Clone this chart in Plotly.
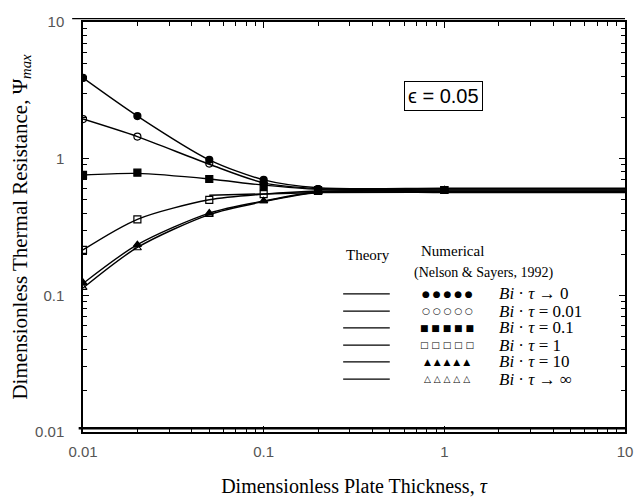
import plotly.graph_objects as go

# ---------------- data ----------------
tau_num = [0.01, 0.02, 0.05, 0.1, 0.2, 1]
tau_th = [0.01, 0.02, 0.05, 0.1, 0.2, 1, 10]

series_labels = ["Bi·τ → 0", "Bi·τ = 0.01", "Bi·τ = 0.1", "Bi·τ = 1", "Bi·τ = 10", "Bi·τ → ∞"]

theory_0 = [3.9, 2.05, 0.98, 0.70, 0.612, 0.607, 0.607]
theory_001 = [1.95, 1.45, 0.91, 0.665, 0.604, 0.599, 0.599]
theory_01 = [0.76, 0.78, 0.71, 0.64, 0.596, 0.59, 0.59]
theory_1 = [0.215, 0.36, 0.50, 0.55, 0.58, 0.581, 0.581]
theory_10 = [0.122, 0.235, 0.40, 0.49, 0.57, 0.573, 0.573]
theory_inf = [0.113, 0.224, 0.39, 0.485, 0.565, 0.565, 0.565]

num_0 = [3.9, 2.05, 0.98, 0.70, 0.60, 0.59]
num_001 = [1.95, 1.45, 0.92, 0.66, 0.60, 0.59]
num_01 = [0.76, 0.79, 0.71, 0.63, 0.59, 0.59]
num_1 = [0.215, 0.36, 0.50, 0.55, 0.58, 0.59]
num_10 = [0.124, 0.235, 0.40, 0.49, 0.57, 0.59]
num_inf = [0.114, 0.222, 0.39, 0.49, 0.57, 0.59]

asym_tau = [0.05, 0.2, 10]
asym_psi = [0.54, 0.565, 0.575]

x_tickvals = [0.01, 0.1, 1, 10]
x_ticktext = ["0.01", "0.1", "1", "10"]
y_tickvals = [0.01, 0.1, 1, 10]
y_ticktext = ["0.01", "0.1", "1", "10"]
minor_vals = [m * d for d in (0.01, 0.1, 1) for m in range(2, 10)]

theories = [theory_0, theory_001, theory_01, theory_1, theory_10, theory_inf]
numericals = [num_0, num_001, num_01, num_1, num_10, num_inf]
symbols = ["circle", "circle-open", "square", "square-open", "triangle-up", "triangle-up-open"]
legend_glyphs = ["● ● ● ● ●", "○ ○ ○ ○ ○", "■ ■ ■ ■ ■", "□ □ □ □ □", "▲ ▲ ▲ ▲ ▲", "△ △ △ △ △"]
legend_texts = ["<i>Bi</i> · <i>τ</i> → 0", "<i>Bi</i> · <i>τ</i> = 0.01", "<i>Bi</i> · <i>τ</i> = 0.1",
                "<i>Bi</i> · <i>τ</i> = 1", "<i>Bi</i> · <i>τ</i> = 10", "<i>Bi</i> · <i>τ</i> → ∞"]

fig = go.Figure()

for lab, th in zip(series_labels, theories):
    fig.add_trace(go.Scatter(x=tau_th, y=th, mode="lines", name=lab + " theory",
                             line=dict(color="black", width=1.4, shape="spline", smoothing=0.8),
                             showlegend=False, hoverinfo="skip"))

fig.add_trace(go.Scatter(x=asym_tau, y=asym_psi, mode="lines", line=dict(color="black", width=1.5),
                         showlegend=False, hoverinfo="skip"))

for lab, nv, sym in zip(series_labels, numericals, symbols):
    fig.add_trace(go.Scatter(x=tau_num, y=nv, mode="markers", name=lab,
                             marker=dict(symbol=sym, size=7, color="black",
                                         line=dict(color="black", width=1.2)),
                             showlegend=False))

serif = "Liberation Serif, Times New Roman, serif"
sans = "Liberation Sans, Arial, sans-serif"

axis_common = dict(
    type="log", range=[-2, 1], ticks="inside", ticklen=6, tickcolor="black", tickwidth=1,
    showline=True, linecolor="black", linewidth=1.5, mirror="allticks",
    showgrid=False, zeroline=False, automargin=False,
    tickfont=dict(family=sans, size=15, color="#555"),
    minor=dict(tickvals=minor_vals, ticks="inside", ticklen=4, tickcolor="black",
               tickwidth=1, showgrid=False),
)

# the page body has an 8px default margin, so the figure is sized to fit the window
fig.update_layout(
    width=636, height=491,
    margin=dict(l=75, r=19, t=14, b=67, autoexpand=False),
    paper_bgcolor="white", plot_bgcolor="white",
    showlegend=False,
    xaxis=dict(axis_common, tickvals=x_tickvals, ticktext=x_ticktext, ticklabelstandoff=5,
               title=dict(text="Dimensionless Plate Thickness, <i>τ</i>",
                          font=dict(family=serif, size=20, color="black"), standoff=20)),
    yaxis=dict(axis_common, tickvals=y_tickvals, ticktext=y_ticktext, ticklabelstandoff=14,
               title=dict(text="Dimensionless Thermal Resistance, Ψ<sub><i>max</i></sub>",
                          font=dict(family=serif, size=21, color="black"), standoff=6)),
)

# double lines at top and bottom borders (as in the scanned original)
fig.add_shape(type="line", xref="paper", yref="paper", x0=-0.02, x1=1, y0=1.008, y1=1.008,
              line=dict(color="black", width=1.2))
fig.add_shape(type="line", xref="paper", yref="paper", x0=-0.008, x1=1, y0=0.009, y1=0.009,
              line=dict(color="black", width=2.5))

# epsilon box
fig.add_annotation(xref="paper", yref="paper", x=0.666, y=0.820, xanchor="center", yanchor="middle",
                   showarrow=False, text="ϵ = 0.05", font=dict(family=sans, size=20, color="black"),
                   bordercolor="black", borderwidth=1, borderpad=3, bgcolor="white")

# custom legend
fig.add_annotation(xref="paper", yref="paper", x=0.526, y=0.432, xanchor="center", yanchor="middle",
                   showarrow=False, text="Theory", font=dict(family=serif, size=15, color="black"))
fig.add_annotation(xref="paper", yref="paper", x=0.681, y=0.441, xanchor="center", yanchor="middle",
                   showarrow=False, text="Numerical", font=dict(family=serif, size=15, color="black"))
fig.add_annotation(xref="paper", yref="paper", x=0.740, y=0.388, xanchor="center", yanchor="middle",
                   showarrow=False, text="(Nelson &amp; Sayers, 1992)",
                   font=dict(family=serif, size=14, color="black"))
row_y = [0.337, 0.295, 0.254, 0.212, 0.171, 0.129]
for ry, glyph, txt in zip(row_y, legend_glyphs, legend_texts):
    fig.add_shape(type="line", xref="paper", yref="paper", x0=0.480, x1=0.566, y0=ry, y1=ry,
                  line=dict(color="black", width=1.3))
    fig.add_annotation(xref="paper", yref="paper", x=0.672, y=ry, xanchor="center", yanchor="middle",
                       showarrow=False, text=glyph,
                       font=dict(family="DejaVu Sans", size=9, color="black"))
    fig.add_annotation(xref="paper", yref="paper", x=0.764, y=ry, xanchor="left", yanchor="middle",
                       showarrow=False, text=txt, font=dict(family=serif, size=17, color="black"))

fig.write_html("out.html")
